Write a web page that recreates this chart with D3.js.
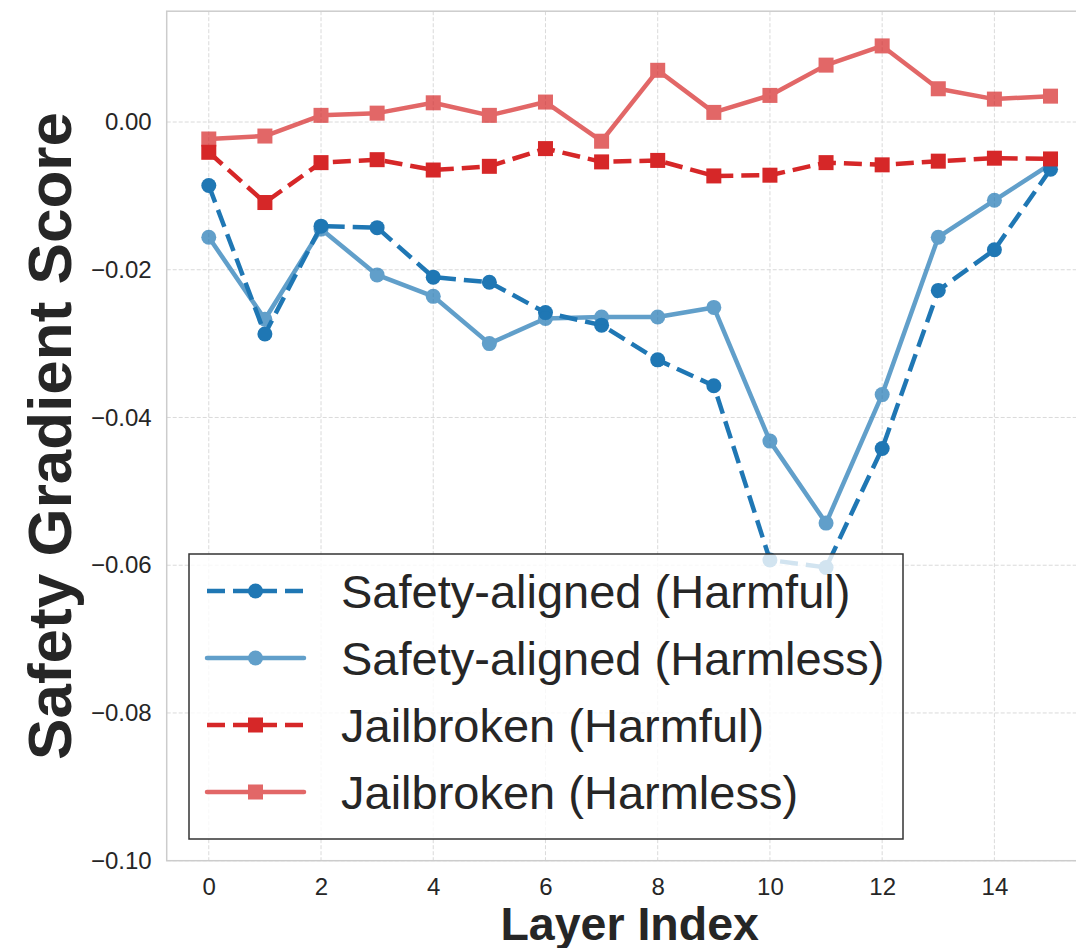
<!DOCTYPE html>
<html>
<head>
<meta charset="utf-8">
<script src="https://cdn.jsdelivr.net/npm/d3@7"></script>
<style>
  body { margin: 0; background: #fff; }
  text { font-family: "Liberation Sans", Arial, sans-serif; fill: #262626; }
</style>
</head>
<body>
<svg id="chart" width="1076" height="948"></svg>
<script>
// layer indices and the four series
const layers = d3.range(0, 16);
const alignedHarmful = [-0.0086, -0.0287, -0.0141, -0.0143, -0.0210, -0.0217, -0.0258, -0.0275,
  -0.0322, -0.0357, -0.0593, -0.0603, -0.0442, -0.0228, -0.0173, -0.0064];
const alignedHarmless = [-0.0156, -0.0267, -0.0145, -0.0207, -0.0236, -0.0300, -0.0266, -0.0264,
  -0.0264, -0.0251, -0.0432, -0.0543, -0.0369, -0.0156, -0.0106, -0.0057];
const jailHarmful = [-0.0041, -0.0109, -0.0055, -0.0051, -0.0065, -0.0060, -0.0036, -0.0054,
  -0.0052, -0.0073, -0.0072, -0.0055, -0.0058, -0.0053, -0.0049, -0.0050];
const jailHarmless = [-0.0023, -0.0019, 0.0009, 0.0012, 0.0026, 0.0009, 0.0027, -0.0026,
  0.0070, 0.0013, 0.0036, 0.0077, 0.0103, 0.0045, 0.0031, 0.0035];

const xTicks = [0, 2, 4, 6, 8, 10, 12, 14];
const yTicks = [0.00, -0.02, -0.04, -0.06, -0.08, -0.10];

const series = [
  { name: "Safety-aligned (Harmful)", values: alignedHarmful, color: "#1f77b4", dashed: true, shape: "circle", alpha: 1 },
  { name: "Safety-aligned (Harmless)", values: alignedHarmless, color: "#1f77b4", dashed: false, shape: "circle", alpha: 0.7 },
  { name: "Jailbroken (Harmful)", values: jailHarmful, color: "#d62728", dashed: true, shape: "square", alpha: 1 },
  { name: "Jailbroken (Harmless)", values: jailHarmless, color: "#d62728", dashed: false, shape: "square", alpha: 0.7 }
];

const svg = d3.select("#chart");
const pLeft = 166.7, pRight = 1092.6, pTop = 11.2, pBottom = 860.7;

const x = d3.scaleLinear().domain([-0.75, 15.75]).range([pLeft, pRight]);
const y = d3.scaleLinear().domain([-0.1, 0.015]).range([pBottom, pTop]);

// grid
const grid = svg.append("g");
grid.selectAll(".gx").data(xTicks).enter().append("line")
  .attr("x1", d => x(d)).attr("x2", d => x(d))
  .attr("y1", pTop).attr("y2", pBottom)
  .attr("stroke", "#dadada").attr("stroke-width", 1).attr("stroke-dasharray", "4,2");
grid.selectAll(".gy").data(yTicks).enter().append("line")
  .attr("x1", pLeft).attr("x2", pRight)
  .attr("y1", d => y(d)).attr("y2", d => y(d))
  .attr("stroke", "#dadada").attr("stroke-width", 1).attr("stroke-dasharray", "4,2");

// axes (tick labels only, seaborn whitegrid style)
const xAxis = svg.append("g").attr("transform", "translate(0," + pBottom + ")")
  .call(d3.axisBottom(x).tickValues(xTicks).tickSize(0).tickPadding(17).tickFormat(d3.format("d")));
const yAxis = svg.append("g").attr("transform", "translate(" + pLeft + ",0)")
  .call(d3.axisLeft(y).tickValues(yTicks).tickSize(0).tickPadding(15)
    .tickFormat(d => d3.format(".2f")(d).replace("-", "\u2212")));
[xAxis, yAxis].forEach(a => {
  a.select(".domain").remove();
  a.selectAll("text").attr("font-size", 24).attr("fill", "#262626")
    .style("font-family", "'Liberation Sans', Arial, sans-serif");
});

// spines
svg.append("rect")
  .attr("x", pLeft).attr("y", pTop)
  .attr("width", pRight - pLeft).attr("height", pBottom - pTop)
  .attr("fill", "none").attr("stroke", "#cccccc").attr("stroke-width", 1.5);

// lines and markers
const plot = svg.append("g");
const line = d3.line().x((d, i) => x(layers[i])).y(d => y(d));

function drawMarker(g, shape, cx, cy, color) {
  if (shape === "circle") {
    g.append("circle").attr("cx", cx).attr("cy", cy).attr("r", 7.5).attr("fill", color);
  } else {
    g.append("rect").attr("x", cx - 7.5).attr("y", cy - 7.5)
      .attr("width", 15).attr("height", 15).attr("fill", color);
  }
}

series.forEach(s => {
  const g = plot.append("g").attr("opacity", s.alpha);
  g.append("path")
    .datum(s.values)
    .attr("d", line)
    .attr("fill", "none")
    .attr("stroke", s.color)
    .attr("stroke-width", 4.5)
    .attr("stroke-linejoin", "round")
    .attr("stroke-linecap", s.dashed ? "butt" : "round")
    .attr("stroke-dasharray", s.dashed ? "18,8" : null);
  s.values.forEach((v, i) => drawMarker(g, s.shape, x(layers[i]), y(v), s.color));
});

// legend
const lg = svg.append("g");
lg.append("rect")
  .attr("x", 189).attr("y", 554)
  .attr("width", 714).attr("height", 285)
  .attr("fill", "white").attr("fill-opacity", 0.8)
  .attr("stroke", "#333333").attr("stroke-width", 1.5);

series.forEach((s, i) => {
  const cy = 591 + i * 67;
  const g = lg.append("g").attr("opacity", s.alpha);
  g.append("line")
    .attr("x1", 207).attr("x2", 304).attr("y1", cy).attr("y2", cy)
    .attr("stroke", s.color).attr("stroke-width", 4.5)
    .attr("stroke-linecap", s.dashed ? "butt" : "round")
    .attr("stroke-dasharray", s.dashed ? "18,8" : null);
  drawMarker(g, s.shape, 255.5, cy, s.color);
  lg.append("text")
    .attr("x", 341).attr("y", cy + 17)
    .attr("font-size", 47)
    .text(s.name);
});

// axis titles
svg.append("text")
  .attr("x", (pLeft + pRight) / 2).attr("y", 940)
  .attr("text-anchor", "middle")
  .attr("font-size", 46.5).attr("font-weight", "bold")
  .text("Layer Index");

svg.append("text")
  .attr("transform", "translate(71,436) rotate(-90)")
  .attr("text-anchor", "middle")
  .attr("font-size", 62).attr("font-weight", "bold")
  .text("Safety Gradient Score");
</script>
</body>
</html>
